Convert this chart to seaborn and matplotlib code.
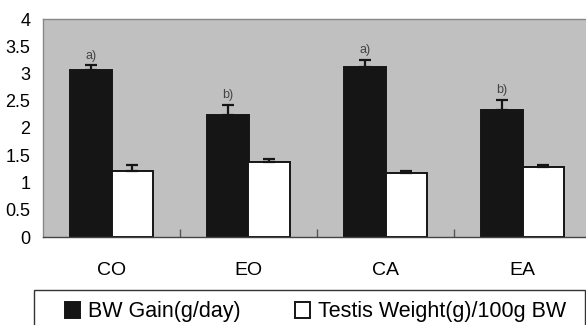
import pandas as pd
import matplotlib.pyplot as plt
import seaborn as sns
from matplotlib.patches import Rectangle

groups = ['CO', 'EO', 'CA', 'EA']
series = ['BW Gain(g/day)', 'Testis Weight(g)/100g BW']
bw_gain = [3.06, 2.24, 3.12, 2.33]
bw_gain_err = [0.09, 0.18, 0.13, 0.18]
testis = [1.21, 1.38, 1.17, 1.28]
testis_err = [0.11, 0.05, 0.04, 0.04]
letters = ['a)', 'b)', 'a)', 'b)']
yticks = [0, 0.5, 1, 1.5, 2, 2.5, 3, 3.5, 4]
ytick_labels = ['0', '0.5', '1', '1.5', '2', '2.5', '3', '3.5', '4']

df = pd.DataFrame({
    'group': groups * 2,
    'series': [series[0]] * 4 + [series[1]] * 4,
    'value': bw_gain + testis,
    'err': bw_gain_err + testis_err,
})

plt.rcParams['font.family'] = ['Liberation Sans', 'DejaVu Sans']
fig = plt.figure(figsize=(5.86, 3.25), dpi=100)
ax = fig.add_axes([43 / 586, 88 / 325, 548 / 586, 218 / 325])
ax.set_facecolor('#c0c0c0')

sns.barplot(data=df, x='group', y='value', hue='series', order=groups, hue_order=series,
            palette=['#151515', 'white'], width=0.6, errorbar=None,
            edgecolor='#151515', linewidth=1.4, saturation=1, ax=ax)

# error bars (upper only) and significance letters, placed on the drawn bars
bars = [p for p in ax.patches if p.get_height() > 0][:8]
for p, (_, row) in zip(bars, df.iterrows()):
    cx = p.get_x() + p.get_width() / 2
    ax.errorbar(cx, row['value'], yerr=[[0], [row['err']]], fmt='none',
                ecolor='#151515', elinewidth=1.6, capsize=4, capthick=1.6)
for p, lab, v, e in zip(bars[:4], letters, bw_gain, bw_gain_err):
    cx = p.get_x() + p.get_width() / 2
    ax.text(cx, v + e + 0.07, lab, ha='center', va='bottom', fontsize=9, color='#444444')

ax.set_ylim(0, 4)
ax.set_xlim(-0.5, 3.5)
ax.set_yticks(yticks)
ax.set_yticklabels(ytick_labels, fontsize=13)
ax.tick_params(axis='y', length=0, pad=9)
ax.tick_params(axis='x', length=0, pad=18, labelsize=14)
ax.set_xticks([0.5, 1.5, 2.5], minor=True)
ax.tick_params(axis='x', which='minor', direction='in', length=6, width=1, color='#555555')
ax.set_xlabel('')
ax.set_ylabel('')

for s in ['top', 'left', 'right']:
    ax.spines[s].set_color('#888888')
    ax.spines[s].set_linewidth(1)
ax.spines['bottom'].set_color('#444444')
ax.spines['bottom'].set_linewidth(1)

handles, labels = ax.get_legend_handles_labels()
ax.get_legend().remove()
fig.patches.append(Rectangle((34 / 586, -0.1), 551 / 586, 1 - 290 / 325 + 0.1,
                             transform=fig.transFigure, facecolor='white',
                             edgecolor='#333333', linewidth=1))
fig.legend(handles, labels, loc='center left', bbox_to_anchor=(56 / 586, 1 - 312 / 325),
           ncol=2, frameon=False, fontsize=15.5, handlelength=0.72, handleheight=0.72,
           handletextpad=0.38, columnspacing=2.5, borderaxespad=0)

fig.savefig('out.png', dpi=100)
